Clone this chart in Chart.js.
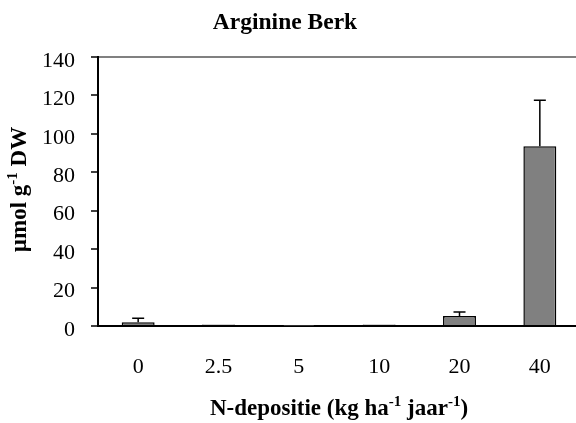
<!DOCTYPE html>
<html>
<head>
<meta charset="utf-8">
<script src="https://cdn.jsdelivr.net/npm/chart.js@4"></script>
<style>
  html, body { margin: 0; padding: 0; background: #fff; overflow: hidden; }
  #wrap { width: 576px; height: 423px; overflow: hidden; }
</style>
</head>
<body>
<div id="wrap"><canvas id="chart" width="584" height="423"></canvas></div>
<script>
const categories = ['0', '2.5', '5', '10', '20', '40'];
const arginine = [1.9, 0.8, 0.1, 0.8, 5.2, 93.5];
const arginineErr = [2.1, 0, 0, 0, 2.1, 24];

const SERIF = '"Liberation Serif", "Times New Roman", serif';

// draw a line of text with superscript pieces, centered on x
function drawRich(ctx, parts, x, y, size) {
  const supSize = Math.round(size * 0.65);
  let total = 0;
  parts.forEach(p => {
    ctx.font = 'bold ' + (p.sup ? supSize : size) + 'px ' + SERIF;
    p.w = ctx.measureText(p.t).width;
    total += p.w;
  });
  let cx = x - total / 2;
  ctx.textAlign = 'left';
  ctx.textBaseline = 'alphabetic';
  parts.forEach(p => {
    ctx.font = 'bold ' + (p.sup ? supSize : size) + 'px ' + SERIF;
    ctx.fillText(p.t, cx, p.sup ? y - size * 0.38 : y);
    cx += p.w;
  });
}

const errorBars = {
  id: 'errorBars',
  afterDatasetsDraw(chart) {
    const ctx = chart.ctx;
    const y = chart.scales.y;
    const meta = chart.getDatasetMeta(0);
    ctx.save();
    ctx.strokeStyle = '#000';
    ctx.lineWidth = 1.5;
    meta.data.forEach((bar, i) => {
      if (!arginineErr[i]) return;
      const top = y.getPixelForValue(arginine[i] + arginineErr[i]);
      const base = y.getPixelForValue(arginine[i]);
      ctx.beginPath();
      ctx.moveTo(bar.x, base);
      ctx.lineTo(bar.x, top);
      ctx.moveTo(bar.x - 6, top);
      ctx.lineTo(bar.x + 6, top);
      ctx.stroke();
    });
    ctx.restore();
  }
};

const labels = {
  id: 'labels',
  afterDraw(chart) {
    const ctx = chart.ctx;
    const area = chart.chartArea;
    ctx.save();
    ctx.fillStyle = '#000';
    ctx.font = 'bold 23.5px ' + SERIF;
    ctx.textAlign = 'center';
    ctx.textBaseline = 'alphabetic';
    ctx.fillText('Arginine Berk', 285, 29);

    // axis titles sit on the middle of the plot area
    drawRich(ctx, [
      { t: 'N-depositie (kg ha' }, { t: '-1', sup: true },
      { t: ' jaar' }, { t: '-1', sup: true }, { t: ')' }
    ], (area.left + area.right) / 2, 415, 23);

    ctx.translate(26, (area.top + area.bottom) / 2 - 2);
    ctx.rotate(-Math.PI / 2);
    drawRich(ctx, [
      { t: '\u00b5mol g' }, { t: '-1', sup: true }, { t: ' DW' }
    ], 0, 0, 23);
    ctx.restore();
  }
};

new Chart(document.getElementById('chart'), {
  type: 'bar',
  data: {
    labels: categories,
    datasets: [{
      data: arginine,
      backgroundColor: '#808080',
      borderColor: '#000',
      borderWidth: 1.5,
      barPercentage: 0.41,
      categoryPercentage: 1
    }]
  },
  options: {
    responsive: false,
    animation: false,
    layout: { padding: { top: 57, right: 4, left: 0, bottom: 0 } },
    plugins: { legend: { display: false }, tooltip: { enabled: false } },
    scales: {
      x: {
        afterFit(s) { s.height = 97; },
        grid: { display: false },
        border: { color: '#000', width: 2 },
        ticks: { color: '#000', padding: 20, font: { family: SERIF, size: 22 } }
      },
      y: {
        min: 0,
        max: 140,
        afterFit(s) { s.width = 98; },
        grid: {
          drawOnChartArea: true,
          color: c => c.tick && c.tick.value === 140 ? '#808080' : 'rgba(0,0,0,0)',
          lineWidth: 2,
          tickColor: '#000',
          tickWidth: 1.5,
          tickLength: 7
        },
        border: { color: '#000', width: 2 },
        ticks: { stepSize: 20, color: '#000', padding: 16, labelOffset: 4, font: { family: SERIF, size: 22 } }
      }
    }
  },
  plugins: [errorBars, labels]
});
</script>
</body>
</html>
